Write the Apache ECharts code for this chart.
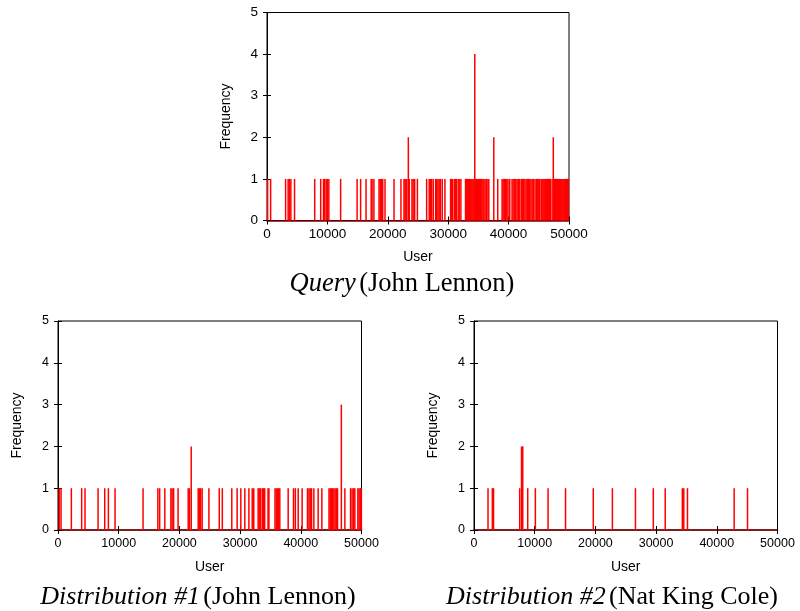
<!DOCTYPE html>
<html>
<head>
<meta charset="utf-8">
<script src="https://cdn.jsdelivr.net/npm/echarts@6/dist/echarts.min.js"></script>
<style>
  html, body { margin: 0; padding: 0; background: #fff; }
  #chart { width: 800px; height: 611px; }
</style>
</head>
<body>
<div id="chart"></div>
<script>
// Axis ranges and tick steps shared by all three panels
const userMin = 0, userMax = 50000, userStep = 10000;
const freqMin = 0, freqMax = 5, freqStep = 1;

// Listening frequency per user: [user id, frequency]
const querySpikes = [
  [100,1],[600,1],[3080,1],[3500,1],[3700,1],[3950,1],[4560,1],[7900,1],[8890,1],
  [9350,1],[9550,1],[9800,1],[10000,1],[10240,1],[12190,1],[14920,1],[15500,1],[16400,1],
  [17250,1],[17400,1],[17700,1],[18550,1],[18750,1],[18950,1],[19160,1],[19540,1],[21030,1],
  [22180,1],[22680,1],[22850,1],[23000,1],[23150,1],[23400,2],[23550,1],[24000,1],[24200,1],
  [24450,1],[24900,1],[26430,1],[26860,1],[27050,1],[27250,1],[27520,1],[27920,1],[28080,1],
  [28300,1],[28500,1],[28700,1],[29010,1],[29460,1],[30400,1],[30550,1],[30700,1],[31000,1],
  [31200,1],[31350,1],[31650,1],[31820,1],[32100,1],[32870,1],[33050,1],[33200,1],[33350,1],
  [33500,1],[33650,1],[33800,1],[33950,1],[34100,1],[34250,1],[34400,4],[34550,1],[34700,1],
  [34850,1],[35000,1],[35200,1],[35350,1],[35550,1],[35750,1],[35900,1],[36100,1],[36300,1],
  [36440,1],[36720,1],[37550,2],[38200,1],[38920,1],[39100,1],[39300,1],[39500,1],[39700,1],
  [39900,1],[40190,1],[40570,1],[40750,1],[41000,1],[41190,1],[41400,1],[41600,1],[41850,1],
  [42120,1],[42300,1],[42500,1],[42700,1],[42900,1],[43100,1],[43300,1],[43500,1],[43700,1],
  [43900,1],[44100,1],[44370,1],[44600,1],[44800,1],[45000,1],[45150,1],[45400,1],[45550,1],
  [45700,1],[45850,1],[46000,1],[46150,1],[46300,1],[46450,1],[46600,1],[46750,1],[46900,1],
  [47200,1],[47400,2],[47600,1],[47750,1],[47900,1],[48100,1],[48250,1],[48400,1],[48550,1],
  [48700,1],[48850,1],[49000,1],[49150,1],[49300,1],[49450,1],[49600,1],[49750,1],[49900,1]
];

const dist1Spikes = [
  [200,1],[500,1],[2200,1],[3900,1],[4450,1],[6600,1],[7700,1],[8300,1],[9400,1],[14010,1],
  [16450,1],[16750,1],[17600,1],[18600,1],[18800,1],[19050,1],[19780,1],[21450,1],[21650,1],
  [21950,2],[23100,1],[23300,1],[23500,1],[23750,1],[24860,1],[26570,1],[27070,1],[28630,1],
  [29510,1],[30120,1],[30780,1],[31450,1],[32000,1],[32250,1],[32970,1],[33150,1],[33350,1],
  [33650,1],[33850,1],[34050,1],[34600,1],[34750,1],[35750,1],[35950,1],[36150,1],[36350,1],
  [36540,1],[37920,1],[38800,1],[39100,1],[39570,1],[40220,1],[41100,1],[41350,1],[41550,1],
  [41770,1],[42150,1],[42860,1],[43470,1],[44650,1],[44850,1],[45050,1],[45250,1],[45450,1],
  [45650,1],[45850,1],[46050,1],[46680,3],[47260,1],[48200,1],[48450,1],[48700,1],[48900,1],
  [49400,1],[49600,1],[49800,1],[49980,1]
];

const dist2Spikes = [
  [2310,1],[3020,1],[3220,1],[7530,1],[7830,2],[8030,2],[8850,1],[10110,1],[12200,1],
  [15080,1],[19650,1],[22800,1],[26600,1],[29540,1],[31500,1],[34320,1],[34560,1],
  [35170,1],[42860,1],[45060,1]
];

// Panel captions: italic lead word(s) + plain artist name
const captionLeads = ['Query', 'Distribution #1', 'Distribution #2'];
const captionArtists = ['(John Lennon)', '(John Lennon)', '(Nat King Cole)'];

const panels = [
  { grid: { left: 267, top: 12.5, width: 302, height: 208 }, spikes: querySpikes, tickSize: 13.5,
    caption: { x: 402, y: 284 }, captionSize: 26.5 },
  { grid: { left: 58, top: 321, width: 303.5, height: 209 }, spikes: dist1Spikes, tickSize: 12.5,
    caption: { x: 198, y: 597 }, captionSize: 26 },
  { grid: { left: 474, top: 321, width: 303.5, height: 209 }, spikes: dist2Spikes, tickSize: 12.5,
    caption: { x: 612, y: 597 }, captionSize: 26 }
];

const sans = '"Liberation Sans", Arial, Helvetica, sans-serif';
const serif = '"Liberation Serif", "Times New Roman", serif';
const plainNumber = v => String(v);

const grids = [], xAxes = [], yAxes = [], series = [], graphics = [];

panels.forEach((p, i) => {
  grids.push(Object.assign({ show: true, borderColor: '#000', borderWidth: 1, containLabel: false }, p.grid));

  // bottom x axis with labels
  xAxes.push({
    type: 'value', gridIndex: i, position: 'bottom', min: userMin, max: userMax, interval: userStep,
    name: 'User', nameLocation: 'middle', nameGap: 30,
    nameTextStyle: { fontFamily: sans, fontSize: 14, color: '#000' },
    axisLine: { show: true, onZero: false, lineStyle: { color: '#7d0000', width: 1.5 } },
    axisTick: { show: true, inside: true, length: 4, lineStyle: { color: '#000' } },
    axisLabel: { fontFamily: sans, fontSize: p.tickSize, color: '#000', margin: 7, formatter: plainNumber },
    splitLine: { show: false }
  });
  // mirrored ticks along the top edge
  xAxes.push({
    type: 'value', gridIndex: i, position: 'top', min: userMin, max: userMax, interval: userStep,
    axisLine: { show: false },
    axisTick: { show: true, inside: true, length: 4, lineStyle: { color: '#000' } },
    axisLabel: { show: false }, splitLine: { show: false }
  });
  // left y axis with labels
  yAxes.push({
    type: 'value', gridIndex: i, position: 'left', min: freqMin, max: freqMax, interval: freqStep,
    name: 'Frequency', nameLocation: 'middle', nameGap: 34, nameRotate: 90,
    nameTextStyle: { fontFamily: sans, fontSize: 14, color: '#000' },
    axisLine: { show: true, lineStyle: { color: '#000', width: 1 } },
    axisTick: { show: true, inside: true, length: 4, lineStyle: { color: '#000' } },
    axisLabel: { fontFamily: sans, fontSize: p.tickSize, color: '#000', margin: 9, formatter: plainNumber },
    splitLine: { show: false }
  });
  // mirrored ticks along the right edge
  yAxes.push({
    type: 'value', gridIndex: i, position: 'right', min: freqMin, max: freqMax, interval: freqStep,
    axisLine: { show: false },
    axisTick: { show: true, inside: true, length: 4, lineStyle: { color: '#000' } },
    axisLabel: { show: false }, splitLine: { show: false }
  });

  series.push({
    type: 'bar', xAxisIndex: i * 2, yAxisIndex: i * 2,
    data: p.spikes, barWidth: 1.5, clip: true,
    itemStyle: { color: '#ff0000' }, silent: true
  });

  graphics.push({
    type: 'text', x: p.caption.x, y: p.caption.y,
    style: {
      text: '{i|' + captionLeads[i] + '} {r|' + captionArtists[i] + '}',
      align: 'center', verticalAlign: 'middle',
      rich: {
        i: { fontFamily: serif, fontSize: p.captionSize, fontStyle: 'italic', fill: '#000' },
        r: { fontFamily: serif, fontSize: p.captionSize, fill: '#000' }
      }
    }
  });
});

const chart = echarts.init(document.getElementById('chart'), null, { renderer: 'canvas' });
chart.setOption({
  animation: false,
  backgroundColor: '#fff',
  grid: grids,
  xAxis: xAxes,
  yAxis: yAxes,
  series: series,
  graphic: graphics
});
</script>
</body>
</html>
